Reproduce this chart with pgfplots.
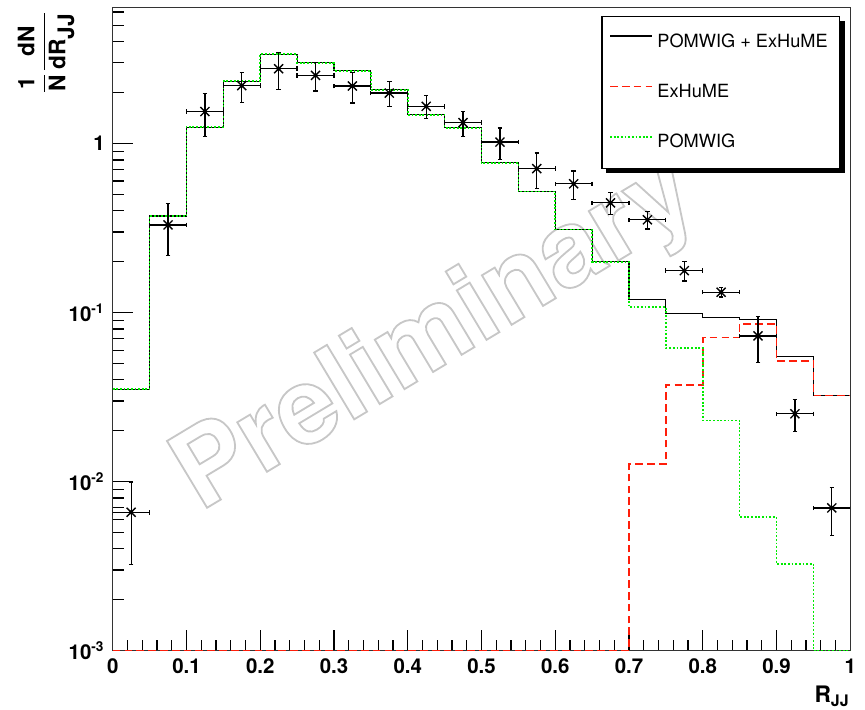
\documentclass[border=0pt]{standalone}
\usepackage{fontspec}
\setmainfont{TeX Gyre Heros}
\usepackage{pgfplots}
\pgfplotsset{compat=1.18}
\usepackage{pgfplotstable}

\definecolor{rootred}{RGB}{255,30,10}
\definecolor{rootgreen}{RGB}{0,235,0}

% bin left edge, total, ExHuME, POMWIG (0 drawn at the axis floor 1e-3)
\pgfplotstableread{
x     tot     exh     pom
0.00  0.0352  0.001   0.0352
0.05  0.373   0.001   0.373
0.10  1.25    0.001   1.25
0.15  2.34    0.001   2.34
0.20  3.38    0.001   3.38
0.25  3.00    0.001   3.00
0.30  2.69    0.001   2.69
0.35  2.08    0.001   2.08
0.40  1.48    0.001   1.48
0.45  1.24    0.001   1.24
0.50  0.769   0.001   0.769
0.55  0.520   0.001   0.520
0.60  0.311   0.001   0.311
0.65  0.200   0.001   0.200
0.70  0.120   0.01267 0.1076
0.75  0.0986  0.0372  0.0618
0.80  0.0939  0.0711  0.0230
0.85  0.0914  0.0857  0.00618
0.90  0.0552  0.0518  0.00327
0.95  0.0324  0.0324  0.001
1.00  0.0324  0.0324  0.001
}\histtab

% data points
\pgfplotstableread{
x      y        ex     ey
0.025  0.00659  0.025  0.00334
0.075  0.330    0.025  0.112
0.125  1.546    0.025  0.44
0.175  2.20     0.025  0.445
0.225  2.77     0.025  0.675
0.275  2.53     0.025  0.485
0.325  2.19     0.025  0.455
0.375  1.99     0.025  0.34
0.425  1.66     0.025  0.255
0.475  1.33     0.025  0.225
0.525  1.02     0.025  0.216
0.575  0.711    0.025  0.167
0.625  0.578    0.025  0.11
0.675  0.446    0.025  0.067
0.725  0.354    0.025  0.042
0.775  0.177    0.025  0.023
0.825  0.132    0.025  0.0085
0.875  0.0728   0.025  0.022
0.925  0.0252   0.025  0.0054
0.975  0.00699  0.025  0.0022
}\datatab

% outlined text (stroke only)
\newcommand\outlined[1]{\special{pdf:code 1 Tr 0.8 w}#1\special{pdf:code 0 Tr}}

\begin{document}
\begin{tikzpicture}
\begin{axis}[
  scale only axis, width=324.5pt, height=283.1pt,
  xmin=0, xmax=1, ymode=log, ymin=1e-3, ymax=6.4,
  tick pos=left, tick align=inside,
  xtick={0,0.1,0.2,0.3,0.4,0.5,0.6,0.7,0.8,0.9,1},
  minor x tick num=4,
  ytick={0.001,0.01,0.1,1},
  yticklabels={10\textsuperscript{-3},10\textsuperscript{-2},10\textsuperscript{-1},1},
  minor ytick={0.002,0.003,0.004,0.005,0.006,0.007,0.008,0.009,
    0.02,0.03,0.04,0.05,0.06,0.07,0.08,0.09,
    0.2,0.3,0.4,0.5,0.6,0.7,0.8,0.9,2,3,4,5,6},
  major tick length=9pt, minor tick length=4.8pt,
  every tick/.style={black, line width=0.5pt},
  axis line style={black!80, line width=0.6pt},
  ticklabel style={font=\bfseries\fontsize{9}{10}\selectfont},
  /pgf/number format/assume math mode=true,
  xlabel={\textbf{R}\textsubscript{\textbf{JJ}}},
  xlabel style={at={(rel axis cs:1,-0.0544)}, anchor=north east, inner sep=0pt,
    font=\fontsize{10}{11}\selectfont},
  legend style={at={(rel axis cs:0.9864,0.9865)}, anchor=north east,
    draw=black, line width=0.6pt, fill=white,
    font=\fontsize{8}{9.6}\selectfont,
    inner xsep=3.2pt, inner ysep=5.4pt, row sep=10.8pt,
    nodes={inner sep=2pt, text depth=0.15em}},
  legend cell align=left,
  legend image code/.code={\draw[#1] (0pt,2.6pt) -- (18.5pt,2.6pt);},
]
\coordinate (bbsw) at (rel axis cs:0,0);
\coordinate (bbne) at (rel axis cs:1,1);
\coordinate (ylab) at (rel axis cs:-0.0903,0.996);

\node[rotate=31, anchor=base west, inner sep=0pt, text=black!22,
  font=\bfseries\fontsize{47}{54}\selectfont]
  at (axis cs:0.118,0.0066) {\outlined{Preliminary}};

\addplot[const plot, black, line width=0.5pt] table[x=x, y=tot] {\histtab};
\addlegendentry{POMWIG + ExHuME}
\addplot[const plot, rootred, line width=0.7pt, dash pattern=on 3.4pt off 1.8pt] table[x=x, y=exh] {\histtab};
\addlegendentry{ExHuME}
\addplot[const plot, rootgreen, line width=0.7pt, dash pattern=on 0.8pt off 0.8pt] table[x=x, y=pom] {\histtab};
\addlegendentry{POMWIG}

\addplot[only marks, black, mark=x, mark size=2.8pt, mark options={line width=0.6pt},
  error bars/.cd, x dir=both, x explicit, y dir=both, y explicit,
  error bar style={line width=0.55pt, black},
  error mark options={rotate=90, mark size=1pt, line width=0.55pt}]
  table[x=x, y=y, x error=ex, y error=ey] {\datatab};
\addplot[only marks, black, mark=*, mark size=0.8pt, forget plot] table[x=x, y=y] {\datatab};

% legend shadow (the legend box is drawn over it)
\fill[black] (rel axis cs:0.6688,0.7425) rectangle (rel axis cs:0.9928,0.9787);
\end{axis}
\node[rotate=90, anchor=east, inner sep=0pt, font=\fontsize{10}{12}\selectfont] at (ylab)
  {$\displaystyle\frac{\textbf{1}}{\textbf{N}}\frac{\textbf{dN}}{\textbf{dR}_{\textbf{JJ}}}$};
\pgfresetboundingbox
\path[use as bounding box] ([shift={(-49.6pt,-25.7pt)}]bbsw) rectangle ([shift={(6.5pt,3.2pt)}]bbne);
\end{tikzpicture}
\end{document}
